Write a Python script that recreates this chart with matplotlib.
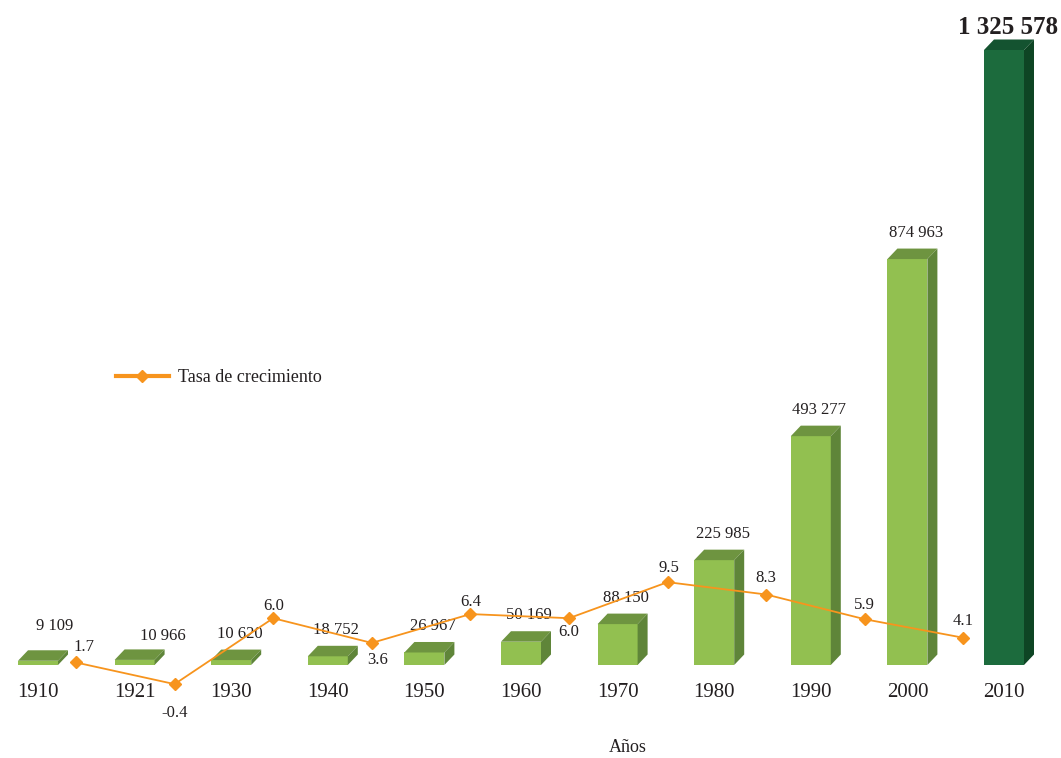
import matplotlib.pyplot as plt
from matplotlib.patches import Polygon
from matplotlib.lines import Line2D

plt.rcParams['font.family'] = ['Liberation Serif', 'DejaVu Serif']

# datos
years = ['1910', '1921', '1930', '1940', '1950', '1960', '1970', '1980', '1990', '2000', '2010']
population = [9109, 10966, 10620, 18752, 26967, 50169, 88150, 225985, 493277, 874963, 1325578]
growth_rate = [1.7, -0.4, 6.0, 3.6, 6.4, 6.0, 9.5, 8.3, 5.9, 4.1]
rate_labels = ['1.7', '-0.4', '6.0', '3.6', '6.4', '6.0', '9.5', '8.3', '5.9', '4.1']

W, H = 1061, 758
fig = plt.figure(figsize=(W / 100, H / 100), dpi=100)

base_px = 93          # baseline from bottom, pixels
px_per_bar = 96.6     # bar spacing in px
first_bar_px = 38
units_per_px = 1325578 / 615.0

pos = [0, base_px / H, 1, (H - base_px) / H]
ax = fig.add_axes(pos)
ax.set_xlim(-first_bar_px / px_per_bar, (W - first_bar_px) / px_per_bar)
ax.set_ylim(0, (H - base_px) * units_per_px)
ax.axis('off')

bw = 40 / px_per_bar
dx = 10 / px_per_bar
dy = 10.5 * units_per_px

light = ('#92C050', '#6E9440', '#5F8539')   # front, top, side
dark = ('#1C6B3D', '#145330', '#0E4524')

for i, v in enumerate(population):
    front, top, side = dark if i == len(population) - 1 else light
    x0, x1 = i - bw / 2, i + bw / 2
    ax.add_patch(Polygon([(x0, 0), (x1, 0), (x1, v), (x0, v)], closed=True,
                         facecolor=front, edgecolor='none', clip_on=False))
    ax.add_patch(Polygon([(x0, v), (x1, v), (x1 + dx, v + dy), (x0 + dx, v + dy)],
                         closed=True, facecolor=top, edgecolor='none', clip_on=False))
    ax.add_patch(Polygon([(x1, 0), (x1 + dx, dy), (x1 + dx, v + dy), (x1, v)],
                         closed=True, facecolor=side, edgecolor='none', clip_on=False))
    # etiqueta del año
    ax.annotate(years[i], (i, 0), xytext=(0, -19.5), textcoords='offset points',
                ha='center', va='center', fontsize=15, color='#231F20')
    # etiqueta del valor
    txt = f"{v:,}".replace(',', ' ')
    if i == len(population) - 1:
        ax.annotate(txt, (i, v), xytext=(3, 16.5), textcoords='offset points',
                    ha='center', va='center', fontsize=18, fontweight='bold', color='#231F20')
    else:
        off = {0: (12, 25), 1: (20, 17)}.get(i, (6, 19))
        ax.annotate(txt, (i, v), xytext=off, textcoords='offset points',
                    ha='center', va='center', fontsize=12, color='#231F20')

# tasa de crecimiento
ax2 = fig.add_axes(pos)
rate_px0, rate_step = 76, 98.6
ax2.set_xlim(-rate_px0 / rate_step, (W - rate_px0) / rate_step)
zero_px = 78 - base_px
px_per_unit = 10.3
ax2.set_ylim((0 - zero_px) / px_per_unit, (H - base_px - zero_px) / px_per_unit)
ax2.axis('off')
orange = '#F7941D'
ax2.plot(range(len(growth_rate)), growth_rate, color=orange, lw=1.3, marker='D',
         ms=6, clip_on=False, zorder=5)
rate_offsets = [(6, 11), (0, -21), (0, 9), (4, -12), (0, 9), (0, -10), (1, 10), (0, 12), (0, 10), (0, 12)]
for i, r in enumerate(growth_rate):
    ax2.annotate(rate_labels[i], (i, r), xytext=rate_offsets[i], textcoords='offset points',
                 ha='center', va='center', fontsize=12, color='#231F20',
                 annotation_clip=False)

handle = Line2D([], [], color=orange, lw=3, marker='D', ms=6)
fig.legend([handle], ['Tasa de crecimiento'], loc='center left',
           bbox_to_anchor=(100 / W, 1 - 378 / H), frameon=False, fontsize=13,
           handlelength=2.9, handletextpad=0.5, labelcolor='#231F20')

fig.text(628 / W, 1 - 748 / H, 'Años', ha='center', va='center', fontsize=13, color='#231F20')

fig.savefig('out.png', dpi=100)
